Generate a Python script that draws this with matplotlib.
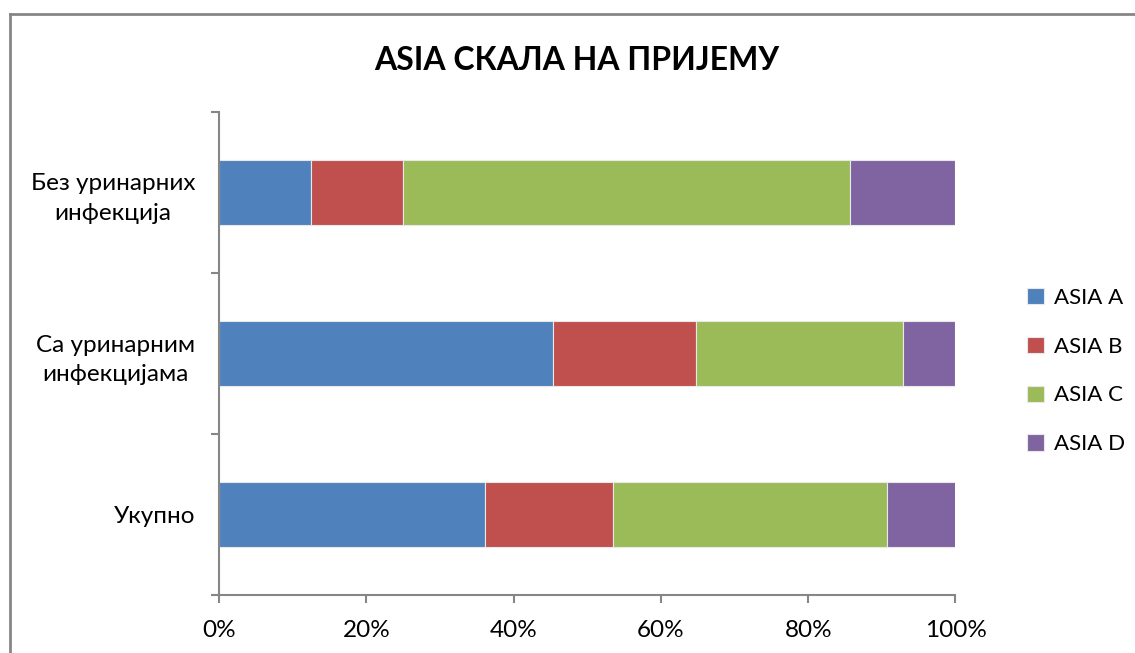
import matplotlib
matplotlib.use("Agg")
import matplotlib.pyplot as plt
from matplotlib.lines import Line2D
import numpy as np

categories = ["Укупно", "Са уринарним\nинфекцијама", "Без уринарних\nинфекција"]
series = ["ASIA A", "ASIA B", "ASIA C", "ASIA D"]
asia_a = [36.1, 45.4, 12.5]
asia_b = [17.4, 19.3, 12.5]
asia_c = [37.2, 28.2, 60.7]
asia_d = [9.3, 7.1, 14.3]
colors = ["#4F81BD", "#C0504D", "#9BBB59", "#8064A2"]

plt.rcParams['font.family'] = ['Lato', 'DejaVu Sans']

fig = plt.figure(figsize=(11.35, 6.53), dpi=100)
# outer chart border (only top and left are inside the picture)
bx, by = 10 / 1135, 1 - 14 / 653
fig.lines.append(Line2D([bx, bx], [0, by], transform=fig.transFigure, color="#868686", lw=2))
fig.lines.append(Line2D([bx, 1], [by, by], transform=fig.transFigure, color="#868686", lw=2))

ax = fig.add_axes([219 / 1135, 1 - 595 / 653, (955.5 - 219) / 1135, (595 - 112) / 653])

y = np.arange(len(categories))
left = np.zeros(len(categories))
for name, vals, c in zip(series, [asia_a, asia_b, asia_c, asia_d], colors):
    vals = np.array(vals)
    ax.barh(y, vals, left=left, height=0.4, color=c, edgecolor="#e8e8e8",
            linewidth=0.8, label=name)
    left += vals

ax.set_xlim(0, 100)
ax.set_ylim(-0.5, 2.5)
ax.set_xticks(np.arange(0, 101, 20))
ax.set_xticklabels([f"{v}%" for v in range(0, 101, 20)], fontsize=17.5)
ax.set_yticks(y)
ax.set_yticklabels(categories, fontsize=17.5, multialignment="center", linespacing=1.5)
ax.set_yticks([-0.5, 0.5, 1.5, 2.5], minor=True)
ax.tick_params(axis="y", which="major", length=0, pad=17)
ax.tick_params(axis="y", which="minor", length=6, width=1.5, color="#868686", direction="out")
ax.tick_params(axis="x", length=6, width=1.5, color="#868686", direction="out", pad=12)

for s in ["top", "right"]:
    ax.spines[s].set_visible(False)
for s in ["left", "bottom"]:
    ax.spines[s].set_color("#868686")
    ax.spines[s].set_linewidth(1.5)

fig.text(577 / 1135, 1 - 60 / 653, "ASIA СКАЛА НА ПРИЈЕМУ", ha="center", va="center",
         fontsize=23, fontweight="bold")

handles, labels = ax.get_legend_handles_labels()
fig.legend(handles, labels, loc="center left", bbox_to_anchor=(1007 / 1135, 1 - 371 / 653),
           frameon=False, fontsize=16, handlelength=0.75, handleheight=0.75,
           labelspacing=1.3, handletextpad=0.45)

fig.savefig("out.png", dpi=100)
